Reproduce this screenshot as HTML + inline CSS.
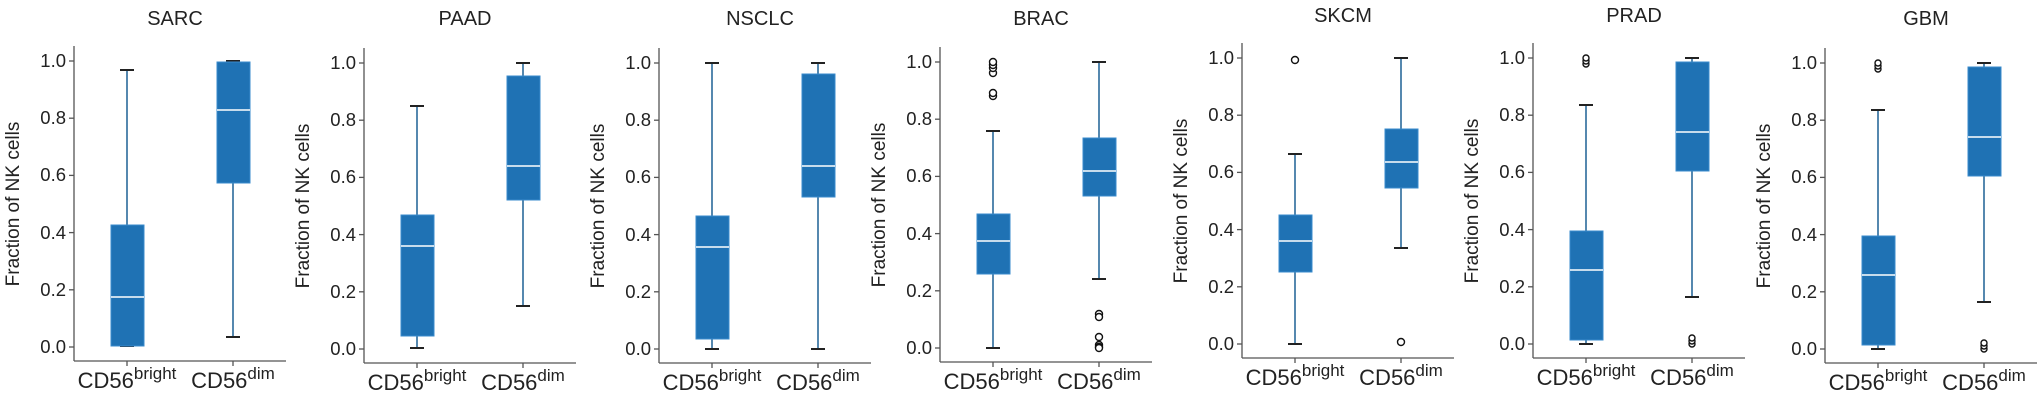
<!DOCTYPE html>
<html><head><meta charset="utf-8"><style>
html,body{margin:0;padding:0;background:#fff}
svg{display:block}
text{font-family:"Liberation Sans",sans-serif;fill:#222}
.ax{stroke:#555;stroke-width:1.3;fill:none}
.wh{stroke:#2b6a9b;stroke-width:1.6}
.cap{stroke:#222;stroke-width:2}
.bx{fill:#1f72b4;stroke:#3a8bcc;stroke-width:1}
.md{stroke:#fff;stroke-width:1.6}
.o{fill:#fff;stroke:#111;stroke-width:1.4}
.tl{font-size:18.5px;text-anchor:end}
.ti{font-size:20px;text-anchor:middle}
.cl{font-size:22px;text-anchor:middle}
</style></head><body>
<svg width="2043" height="396" viewBox="0 0 2043 396" xmlns="http://www.w3.org/2000/svg">
<defs>
<g id="axes">
<line class="ax" x1="0" y1="-301" x2="0" y2="14"/>
<line class="ax" x1="0" y1="14" x2="212" y2="14"/>
<line class="ax" x1="-5" y1="0" x2="0" y2="0"/>
<line class="ax" x1="-5" y1="-57.2" x2="0" y2="-57.2"/>
<line class="ax" x1="-5" y1="-114.4" x2="0" y2="-114.4"/>
<line class="ax" x1="-5" y1="-171.6" x2="0" y2="-171.6"/>
<line class="ax" x1="-5" y1="-228.8" x2="0" y2="-228.8"/>
<line class="ax" x1="-5" y1="-286" x2="0" y2="-286"/>
<line class="ax" x1="53" y1="14" x2="53" y2="19"/>
<line class="ax" x1="159" y1="14" x2="159" y2="19"/>
<text class="tl" x="-8" y="6">0.0</text>
<text class="tl" x="-8" y="-51">0.2</text>
<text class="tl" x="-8" y="-108">0.4</text>
<text class="tl" x="-8" y="-166">0.6</text>
<text class="tl" x="-8" y="-223">0.8</text>
<text class="tl" x="-8" y="-280">1.0</text>
<text x="-55" y="-143" font-size="19" text-anchor="middle" transform="rotate(-90 -55 -143)">Fraction of NK cells</text>
<text class="cl" x="53" y="41">CD56<tspan font-size="17" dy="-9">bright</tspan></text>
<text class="cl" x="159" y="41">CD56<tspan font-size="17" dy="-9">dim</tspan></text>
</g>
</defs>

<g transform="translate(74,347)">
<use href="#axes"/>
<text class="ti" x="101" y="-322">SARC</text>
<line class="wh" x1="53" y1="-1" x2="53" y2="-277"/><line class="cap" x1="46" y1="-277" x2="60" y2="-277"/><line class="cap" x1="46" y1="-1" x2="60" y2="-1"/>
<rect class="bx" x="37" y="-122" width="33" height="121"/><line class="md" x1="37" y1="-50" x2="70" y2="-50"/>
<line class="wh" x1="159" y1="-10" x2="159" y2="-286"/><line class="cap" x1="152" y1="-286" x2="166" y2="-286"/><line class="cap" x1="152" y1="-10" x2="166" y2="-10"/>
<rect class="bx" x="143" y="-285" width="33" height="121"/><line class="md" x1="143" y1="-237" x2="176" y2="-237"/>
</g>

<g transform="translate(364,349)">
<use href="#axes"/>
<text class="ti" x="101" y="-324">PAAD</text>
<line class="wh" x1="53" y1="-1" x2="53" y2="-243"/><line class="cap" x1="46" y1="-243" x2="60" y2="-243"/><line class="cap" x1="46" y1="-1" x2="60" y2="-1"/>
<rect class="bx" x="37" y="-134" width="33" height="121"/><line class="md" x1="37" y1="-103" x2="70" y2="-103"/>
<line class="wh" x1="159" y1="-43" x2="159" y2="-286"/><line class="cap" x1="152" y1="-286" x2="166" y2="-286"/><line class="cap" x1="152" y1="-43" x2="166" y2="-43"/>
<rect class="bx" x="143" y="-273" width="33" height="124"/><line class="md" x1="143" y1="-183" x2="176" y2="-183"/>
</g>

<g transform="translate(659,349)">
<use href="#axes"/>
<text class="ti" x="101" y="-324">NSCLC</text>
<line class="wh" x1="53" y1="0" x2="53" y2="-286"/><line class="cap" x1="46" y1="-286" x2="60" y2="-286"/><line class="cap" x1="46" y1="0" x2="60" y2="0"/>
<rect class="bx" x="37" y="-133" width="33" height="123"/><line class="md" x1="37" y1="-102" x2="70" y2="-102"/>
<line class="wh" x1="159" y1="0" x2="159" y2="-286"/><line class="cap" x1="152" y1="-286" x2="166" y2="-286"/><line class="cap" x1="152" y1="0" x2="166" y2="0"/>
<rect class="bx" x="143" y="-275" width="33" height="123"/><line class="md" x1="143" y1="-183" x2="176" y2="-183"/>
</g>

<g transform="translate(940,348)">
<use href="#axes"/>
<text class="ti" x="101" y="-323">BRAC</text>
<line class="wh" x1="53" y1="0" x2="53" y2="-217"/><line class="cap" x1="46" y1="-217" x2="60" y2="-217"/><line class="cap" x1="46" y1="0" x2="60" y2="0"/>
<rect class="bx" x="37" y="-134" width="33" height="60"/><line class="md" x1="37" y1="-107" x2="70" y2="-107"/>
<circle class="o" cx="53" cy="-252" r="3.5"/><circle class="o" cx="53" cy="-255" r="3.5"/><circle class="o" cx="53" cy="-275" r="3.5"/><circle class="o" cx="53" cy="-280" r="3.5"/><circle class="o" cx="53" cy="-283" r="3.5"/><circle class="o" cx="53" cy="-286" r="3.5"/>
<line class="wh" x1="159" y1="-69" x2="159" y2="-286"/><line class="cap" x1="152" y1="-286" x2="166" y2="-286"/><line class="cap" x1="152" y1="-69" x2="166" y2="-69"/>
<rect class="bx" x="143" y="-210" width="33" height="58"/><line class="md" x1="143" y1="-177" x2="176" y2="-177"/>
<circle class="o" cx="159" cy="-34" r="3.5"/><circle class="o" cx="159" cy="-31" r="3.5"/><circle class="o" cx="159" cy="-11" r="3.5"/><circle class="o" cx="159" cy="-3" r="3.5"/><circle class="o" cx="159" cy="-1" r="3.5"/><circle class="o" cx="159" cy="0" r="3.5"/>
</g>

<g transform="translate(1242,344)">
<use href="#axes"/>
<text class="ti" x="101" y="-322">SKCM</text>
<line class="wh" x1="53" y1="0" x2="53" y2="-190"/><line class="cap" x1="46" y1="-190" x2="60" y2="-190"/><line class="cap" x1="46" y1="0" x2="60" y2="0"/>
<rect class="bx" x="37" y="-129" width="33" height="57"/><line class="md" x1="37" y1="-103" x2="70" y2="-103"/>
<circle class="o" cx="53" cy="-284" r="3.5"/>
<line class="wh" x1="159" y1="-96" x2="159" y2="-286"/><line class="cap" x1="152" y1="-286" x2="166" y2="-286"/><line class="cap" x1="152" y1="-96" x2="166" y2="-96"/>
<rect class="bx" x="143" y="-215" width="33" height="59"/><line class="md" x1="143" y1="-182" x2="176" y2="-182"/>
<circle class="o" cx="159" cy="-2" r="3.5"/>
</g>

<g transform="translate(1533,344)">
<use href="#axes"/>
<text class="ti" x="101" y="-322">PRAD</text>
<line class="wh" x1="53" y1="0" x2="53" y2="-239"/><line class="cap" x1="46" y1="-239" x2="60" y2="-239"/><line class="cap" x1="46" y1="0" x2="60" y2="0"/>
<rect class="bx" x="37" y="-113" width="33" height="109"/><line class="md" x1="37" y1="-74" x2="70" y2="-74"/>
<circle class="o" cx="53" cy="-280" r="3"/><circle class="o" cx="53" cy="-283" r="3"/><circle class="o" cx="53" cy="-286" r="3"/>
<line class="wh" x1="159" y1="-47" x2="159" y2="-286"/><line class="cap" x1="152" y1="-286" x2="166" y2="-286"/><line class="cap" x1="152" y1="-47" x2="166" y2="-47"/>
<rect class="bx" x="143" y="-282" width="33" height="109"/><line class="md" x1="143" y1="-212" x2="176" y2="-212"/>
<circle class="o" cx="159" cy="0" r="3"/><circle class="o" cx="159" cy="-3" r="3"/><circle class="o" cx="159" cy="-6" r="3"/>
</g>

<g transform="translate(1825,349)">
<use href="#axes"/>
<text class="ti" x="101" y="-324">GBM</text>
<line class="wh" x1="53" y1="0" x2="53" y2="-239"/><line class="cap" x1="46" y1="-239" x2="60" y2="-239"/><line class="cap" x1="46" y1="0" x2="60" y2="0"/>
<rect class="bx" x="37" y="-113" width="33" height="109"/><line class="md" x1="37" y1="-74" x2="70" y2="-74"/>
<circle class="o" cx="53" cy="-280" r="3"/><circle class="o" cx="53" cy="-283" r="3"/><circle class="o" cx="53" cy="-286" r="3"/>
<line class="wh" x1="159" y1="-47" x2="159" y2="-286"/><line class="cap" x1="152" y1="-286" x2="166" y2="-286"/><line class="cap" x1="152" y1="-47" x2="166" y2="-47"/>
<rect class="bx" x="143" y="-282" width="33" height="109"/><line class="md" x1="143" y1="-212" x2="176" y2="-212"/>
<circle class="o" cx="159" cy="0" r="3"/><circle class="o" cx="159" cy="-3" r="3"/><circle class="o" cx="159" cy="-6" r="3"/>
</g>
</svg>
</body></html>
